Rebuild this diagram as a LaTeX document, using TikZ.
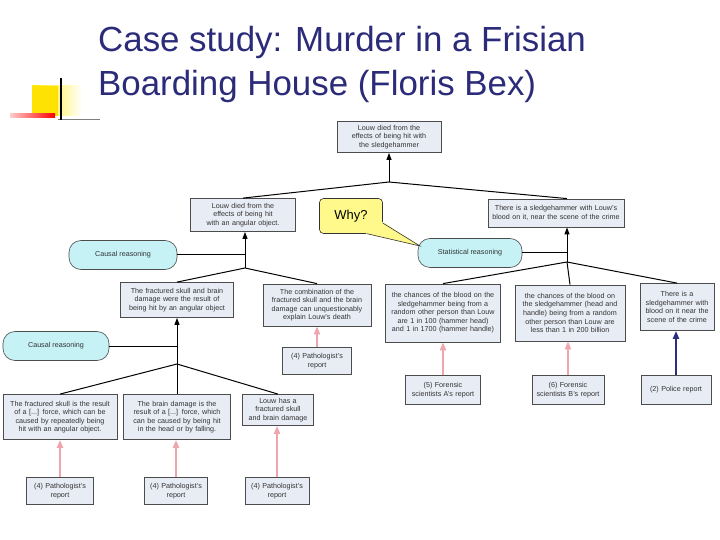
\documentclass[tikz,border=0pt]{standalone}
\usepackage{fontspec}
\setmainfont{Liberation Sans}
\usetikzlibrary{arrows.meta}
\definecolor{boxfill}{HTML}{E8ECF5}
\definecolor{reas}{HTML}{C6F2F6}
\definecolor{pinkc}{HTML}{F0A4AC}
\definecolor{navy}{HTML}{2E2E80}
\definecolor{titlec}{HTML}{2B2B7A}
\begin{document}
\begin{tikzpicture}[x=1bp,y=-1bp,
  box/.style={draw=black!70,fill=boxfill,line width=0.8bp,inner sep=1bp,align=center,
    font=\fontsize{7.2}{8.6}\selectfont,text=black!80,
    execute at begin node={\hyphenpenalty=10000\exhyphenpenalty=10000\relax}},
  reason/.style={draw=black!70,fill=reas,rounded corners=12bp,line width=0.6bp,
    font=\fontsize{7.2}{8.6}\selectfont,text=black!80,minimum height=29bp},
  link/.style={line width=1bp},
  sup/.style={line width=1bp,-{Triangle[length=7bp,width=5bp]}},
  evid/.style={line width=2bp,draw=pinkc,-{Triangle[length=8bp,width=6bp]}},
  police/.style={line width=2bp,draw=navy,-{Triangle[length=8bp,width=6bp]}}]
\useasboundingbox (0,0) rectangle (720,540);
% title
\node[anchor=north west,text=titlec,font=\fontsize{35}{44}\selectfont,align=left,inner sep=0] (title) at (98,26)
  {Case study: Murder in a Frisian\\Boarding House (Floris Bex)};
% logo
\shade[left color=yellow!85!orange,right color=white] (32,86) rectangle (82,116);
\fill[yellow!85!orange] (32,86) rectangle (58,116);
\shade[left color=red!20,right color=red] (10,114) rectangle (55,118);
\draw[black!50,line width=0.6bp] (58,119) -- (100,119);
\draw[black,line width=1.5bp] (61,78) -- (61,120);
% nodes
\node[box,minimum width=104bp,minimum height=31bp,text width=100bp] (top) at (389,137)
  {Louw died from the effects of being hit with the sledgehammer};
\node[box,minimum width=105bp,minimum height=33bp,text width=100bp] (l1) at (243,215)
  {Louw died from the effects of being hit with an angular object.};
\node[box,minimum width=136bp,minimum height=28bp,text width=132bp] (r1) at (556,213)
  {There is a sledgehammer with Louw's blood on it, near the scene of the crime};
\node[reason,minimum width=108bp] (cr1) at (123,255) {Causal reasoning};
\node[reason,minimum width=104bp] (sr) at (470,253) {Statistical reasoning};
\node[box,minimum width=113bp,minimum height=35bp,text width=108bp] (a) at (177,300)
  {The fractured skull and brain damage were the result of being hit by an angular object};
\node[box,minimum width=108bp,minimum height=42bp,text width=104bp] (b) at (317,305)
  {The combination of the fractured skull and the brain damage can unquestionably explain Louw's death};
\node[box,minimum width=115bp,minimum height=58bp,text width=112bp] (c) at (443,313)
  {the chances of the blood on the sledgehammer being from a random other person than Louw are 1 in 100 (hammer head) and 1 in 1700 (hammer handle)};
\node[box,minimum width=110bp,minimum height=56bp,text width=106bp] (d) at (570,313)
  {the chances of the blood on the sledgehammer (head and handle) being from a random other person than Louw are less than 1 in 200 billion};
\node[box,minimum width=74bp,minimum height=47bp,text width=72bp] (e) at (677,307)
  {There is a sledgehammer with blood on it near the scene of the crime};
\node[box,minimum width=69bp,minimum height=27bp,text width=66bp] (pb) at (317,361) {(4) Pathologist's report};
\node[box,minimum width=75bp,minimum height=29bp,text width=72bp] (fa) at (443,390) {(5) Forensic scientists A's report};
\node[box,minimum width=72bp,minimum height=29bp,text width=70bp] (fb) at (568,390) {(6) Forensic scientists B's report};
\node[box,minimum width=70bp,minimum height=29bp,text width=68bp] (pr) at (676,390) {(2) Police report};
\node[reason,minimum width=106bp] (cr2) at (56,346) {Causal reasoning};
\node[box,minimum width=114bp,minimum height=45bp,text width=110bp] (f) at (60,417)
  {The fractured skull is the result of a [...] force, which can be caused by repeatedly being hit with an angular object.};
\node[box,minimum width=107bp,minimum height=45bp,text width=104bp] (g) at (177,417)
  {The brain damage is the result of a [...] force, which can be caused by being hit in the head or by falling.};
\node[box,minimum width=71bp,minimum height=31bp,text width=68bp] (h) at (278,410)
  {Louw has a fractured skull and brain damage};
\node[box,minimum width=67bp,minimum height=27bp,text width=64bp] (pf) at (60,491) {(4) Pathologist's report};
\node[box,minimum width=63bp,minimum height=27bp,text width=60bp] (pg) at (176,491) {(4) Pathologist's report};
\node[box,minimum width=64bp,minimum height=27bp,text width=60bp] (ph) at (277,491) {(4) Pathologist's report};
% junctions
\coordinate (j1) at (389,182);
\coordinate (j2) at (245,268);
\coordinate (j3) at (567,262);
\coordinate (j4) at (177,364);
\draw[sup] (j1) -- (top.south);
\draw[link] (l1.north) -- (j1) -- (r1.north -| 567,0);
\draw[sup] (j2) -- (l1.south -| j2);
\draw[link] (a.north) -- (j2) -- (b.north);
\draw[link] (cr1.east) -- (cr1.east -| j2);
\draw[sup] (j3) -- (r1.south -| j3);
\draw[link] (c.north) -- (j3) -- (d.north);
\draw[link] (j3) -- (e.north);
\draw[link] (sr.east) -- (sr.east -| j3);
\draw[sup] (j4) -- (a.south);
\draw[link] (f.north) -- (j4) -- (h.north);
\draw[link] (j4) -- (g.north);
\draw[link] (cr2.east) -- (cr2.east -| j4);
% evidence
\draw[evid] (pb) -- (b);
\draw[evid] (fa) -- (c);
\draw[evid] (fb) -- (fb |- d.south);
\draw[police] (pr) -- (pr |- e.south);
\draw[evid] (pf) -- (f);
\draw[evid] (pg) -- (pg |- g.south);
\draw[evid] (ph) -- (ph |- h.south);
% why callout
\node[draw=black!80,fill=yellow!45,rounded corners=4bp,minimum width=63bp,minimum height=35bp,
  font=\fontsize{13}{15}\selectfont,line width=0.6bp] (why) at (351,216) {Why?};
\fill[yellow!45] (366,233.7) -- (420,246) -- (382.7,222) -- (375,226) -- cycle;
\draw[black!80,line width=0.6bp] (367,233.7) -- (420,246) -- (382.7,223);
\end{tikzpicture}
\end{document}
